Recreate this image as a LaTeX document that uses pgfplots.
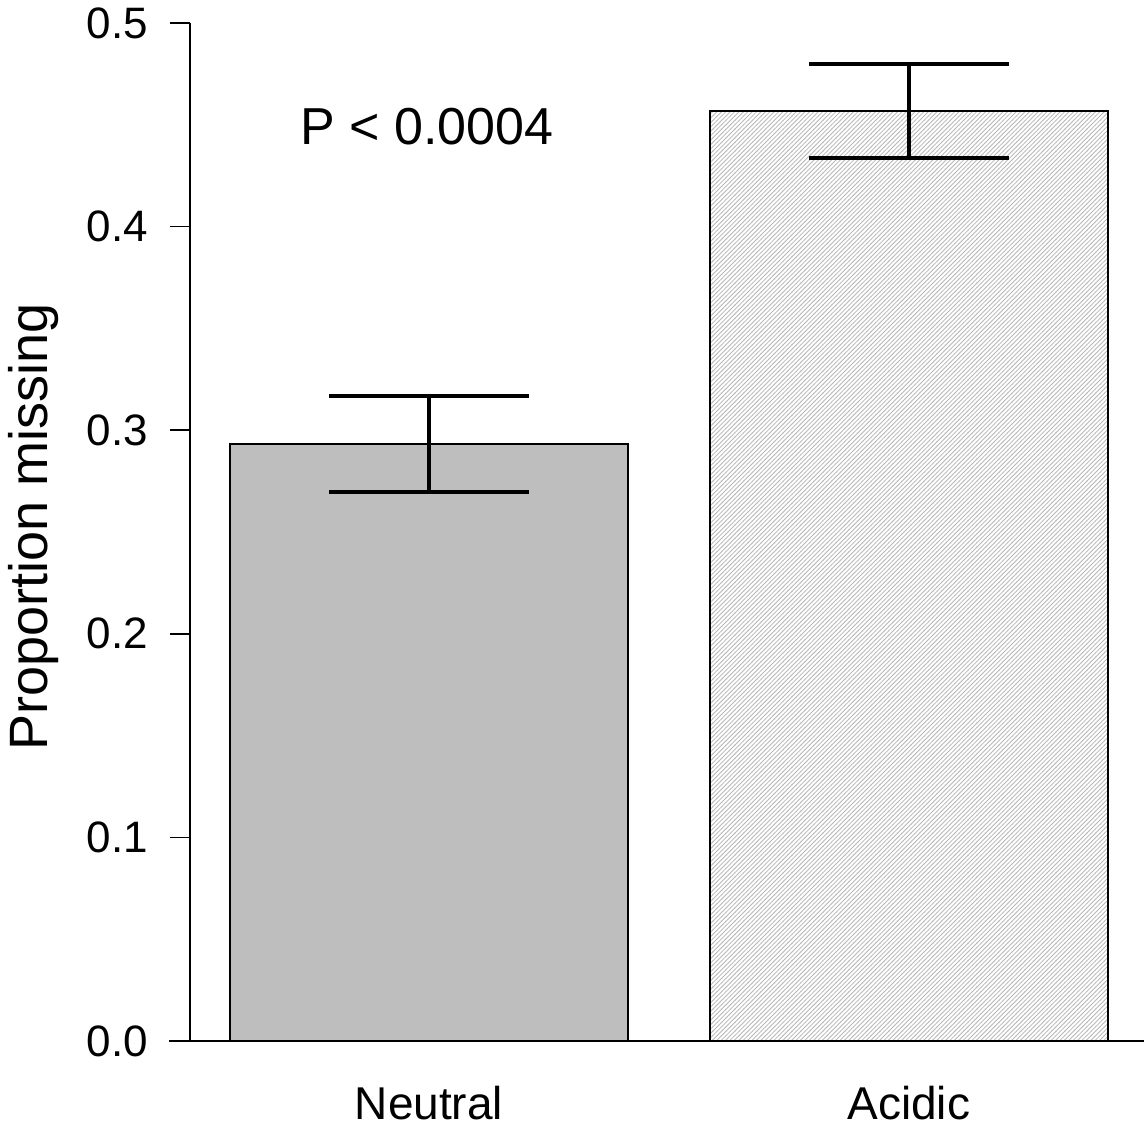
\documentclass[border=0pt]{standalone}
\usepackage{pgfplots}
\pgfplotsset{compat=1.18}
\usepackage{fontspec}
\setmainfont{Liberation Sans}
\usetikzlibrary{patterns}

% thin grey diagonal hatch like R's density= fill
\pgfdeclarepatternformonly{finehatch}{\pgfqpoint{-0.5pt}{-0.5pt}}{\pgfqpoint{2.7pt}{2.7pt}}{\pgfqpoint{2.2pt}{2.2pt}}{
  \pgfsetlinewidth{0.4pt}
  \pgfpathmoveto{\pgfqpoint{-0.1pt}{-0.1pt}}
  \pgfpathlineto{\pgfqpoint{2.3pt}{2.3pt}}
  \pgfusepath{stroke}}

\definecolor{neutralgray}{HTML}{BEBEBE}

\begin{document}
\begin{tikzpicture}
\begin{axis}[
  scale only axis,
  width=477pt, height=509pt,
  xmin=0.502, xmax=2.49,
  ymin=0, ymax=0.5,
  axis lines*=left,
  axis line style={line width=0.8pt},
  ybar, bar width=199pt,
  xtick={1,2}, xticklabels={Neutral,Acidic},
  major x tick style={draw=none},
  xticklabel style={font=\fontsize{23}{27}\selectfont, yshift=-9pt},
  ytick={0,0.1,0.2,0.3,0.4,0.5},
  tick align=outside,
  major tick length=10pt,
  major y tick style={line width=0.8pt, black},
  yticklabel style={font=\fontsize{22}{26}\selectfont, xshift=-7.5pt,
    /pgf/number format/.cd, fixed, fixed zerofill, precision=1, assume math mode=true},
  ylabel={Proportion missing},
  every axis y label/.style={at={(rel axis cs:0,0.5)}, anchor=center, rotate=90,
    yshift=78pt, xshift=2.5pt, font=\fontsize{27}{31}\selectfont},
  clip=false,
]
\addplot[bar shift=0pt, fill=neutralgray, draw=black, line width=0.7pt,
  error bars/.cd, y dir=both, y explicit,
  error bar style={line width=2pt, black},
  error mark options={rotate=90, mark size=50pt, line width=2pt, black}]
  coordinates {(1,0.2932) +- (0,0.0237)};
\addplot[bar shift=0pt, pattern=finehatch, pattern color=black!28, draw=black, line width=0.7pt,
  error bars/.cd, y dir=both, y explicit,
  error bar style={line width=2pt, black},
  error mark options={rotate=90, mark size=50pt, line width=2pt, black}]
  coordinates {(2,0.4568) +- (0,0.0231)};
\node[font=\fontsize{26}{30}\selectfont] at (axis cs:0.996,0.449) {P < 0.0004};
\end{axis}
\draw[line width=0.8pt] ([xshift=-10.5pt]current axis.south west) -- (current axis.south east);
\pgfresetboundingbox
\path[use as bounding box] ([shift={(-95pt,-43.5pt)}]current axis.south west) rectangle ([shift={(0pt,11.5pt)}]current axis.north east);
\end{tikzpicture}
\end{document}
